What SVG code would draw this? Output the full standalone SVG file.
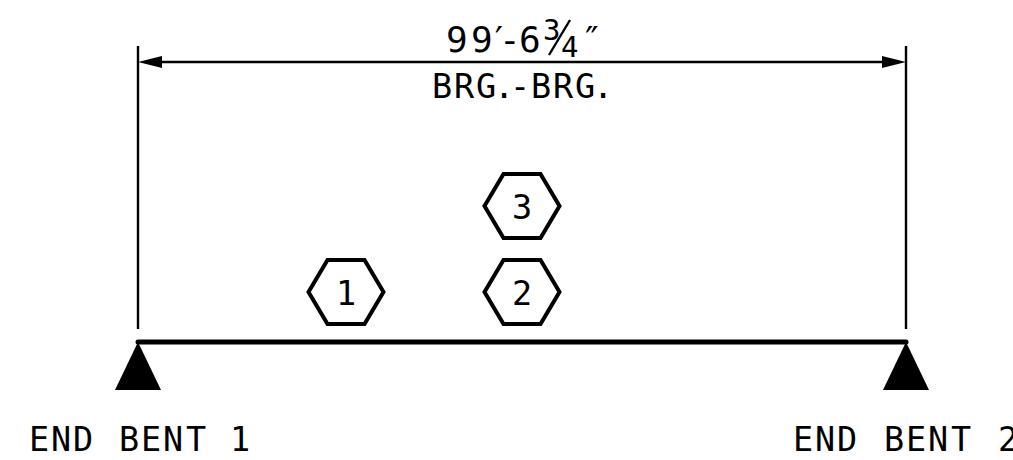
<svg xmlns="http://www.w3.org/2000/svg" width="1013" height="460" viewBox="0 0 1013 460">
<style>
text{font-family:"DejaVu Sans Mono","Liberation Mono",monospace;font-size:33.5px;fill:#000}
.n{text-anchor:middle}
.t{font-size:36px}
.s{font-size:29px}
.hex{fill:none;stroke:#000;stroke-width:4;stroke-linejoin:miter}
.dim{fill:none;stroke:#000;stroke-width:2.4}
.beam{stroke:#000;stroke-width:5;stroke-linecap:round}
</style>
<defs>
<polygon id="hx" points="-37.5,0 -18.5,-32 18.5,-32 37.5,0 18.5,32 -18.5,32"/>
</defs>
<g id="connectors">
<line class="dim" x1="138" y1="46" x2="138" y2="329"/>
<line class="dim" x1="906" y1="46" x2="906" y2="329"/>
<line class="dim" x1="150" y1="62" x2="894" y2="62"/>
<polygon points="138,62 162,56 162,68" fill="#000"/>
<polygon points="906,62 882,56 882,68" fill="#000"/>
<line class="beam" x1="138" y1="342" x2="906" y2="342"/>
</g>
<g id="dimension-label">
<text class="t" x="446 471 488 499 519" y="52">99′-6</text>
<text x="543" y="40" class="s">3</text>
<line class="dim" x1="549" y1="55" x2="570" y2="20"/>
<text x="561" y="57" class="s">4</text>
<text class="t" x="581" y="52">″</text>
<text x="432 454 476 494 510 531 553 575 593" y="98">BRG.-BRG.</text>
</g>
<g id="node-1"><use href="#hx" x="346" y="292" class="hex"/><text x="346" y="305" class="n">1</text></g>
<g id="node-2"><use href="#hx" x="522" y="292" class="hex"/><text x="522" y="305" class="n">2</text></g>
<g id="node-3"><use href="#hx" x="522" y="206" class="hex"/><text x="522" y="219" class="n">3</text></g>
<g id="support-1">
<polygon points="138,342 115,390 161,390" fill="#000"/>
<text x="29 51 73 119 141 163 186 230" y="451">ENDBENT1</text>
</g>
<g id="support-2">
<polygon points="906,342 883,390 929,390" fill="#000"/>
<text x="793 815 837 884 906 928 951 998" y="451">ENDBENT2</text>
</g>
</svg>
